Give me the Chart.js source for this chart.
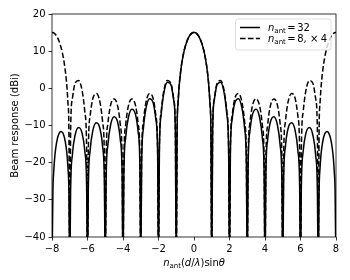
<!DOCTYPE html>
<html>
<head>
<meta charset="utf-8">
<script src="https://cdn.jsdelivr.net/npm/chart.js@4.4.1/dist/chart.umd.min.js"></script>
<style>
  html, body { margin: 0; padding: 0; background: #fff; }
  canvas { display: block; }
</style>
</head>
<body>
<canvas id="beam" width="350" height="280"></canvas>
<script>
/* ================== DATA ================== */
// n_ant (d/lambda) sin(theta)
const uValues = [
  -8, -7.95, -7.9, -7.85, -7.8, -7.7, -7.6, -7.5, -7.4, -7.3, -7.2, -7.15, -7.1, -7.05,
  -7, -6.95, -6.85, -6.7, -6.5, -6.3, -6.15, -6.05,
  -6, -5.95, -5.85, -5.7, -5.5, -5.3, -5.15, -5.05,
  -5, -4.95, -4.85, -4.7, -4.5, -4.3, -4.15, -4.05,
  -4, -3.95, -3.85, -3.7, -3.5, -3.3, -3.15, -3.05,
  -3, -2.95, -2.85, -2.7, -2.5, -2.3, -2.15, -2.05,
  -2, -1.95, -1.85, -1.7, -1.5, -1.3, -1.15, -1.05,
  -1, -0.95, -0.9, -0.85, -0.8, -0.7, -0.6, -0.5, -0.4, -0.3, -0.2, -0.15, -0.1, -0.05,
  0, 0.05, 0.1, 0.15, 0.2, 0.3, 0.4, 0.5, 0.6, 0.7, 0.8, 0.85, 0.9, 0.95,
  1, 1.05, 1.15, 1.3, 1.5, 1.7, 1.85, 1.95,
  2, 2.05, 2.15, 2.3, 2.5, 2.7, 2.85, 2.95,
  3, 3.05, 3.15, 3.3, 3.5, 3.7, 3.85, 3.95,
  4, 4.05, 4.15, 4.3, 4.5, 4.7, 4.85, 4.95,
  5, 5.05, 5.15, 5.3, 5.5, 5.7, 5.85, 5.95,
  6, 6.05, 6.15, 6.3, 6.5, 6.7, 6.85, 6.95,
  7, 7.05, 7.1, 7.15, 7.2, 7.3, 7.4, 7.5, 7.6, 7.7, 7.8, 7.85, 7.9, 7.95,
  8
];

// beam response (dBi), n_ant = 32  (nulls sit below the axis)
const gain32 = [
  -50, -28.08, -22.16, -18.77, -16.49, -13.62, -12.12, -11.60, -11.94, -13.24, -15.93, -18.11, -21.40, -27.23,
  -50, -27.13, -17.80, -12.62, -10.55, -12.16, -17.00, -26.09,
  -50, -25.96, -16.61, -11.39, -9.27, -10.82, -15.62, -24.68,
  -50, -24.52, -15.14, -9.87, -7.67, -9.14, -13.87, -22.89,
  -50, -22.69, -13.26, -7.91, -5.60, -6.95, -11.58, -20.53,
  -50, -20.25, -10.74, -5.26, -2.77, -3.89, -8.34, -17.15,
  -50, -16.72, -7.05, -1.30, 1.62, 1.01, -2.95, -11.38,
  -50, -10.55, -4.17, -0.33, 2.44, 6.37, 9.11, 11.13, 12.63, 13.72, 14.47, 14.73, 14.91, 15.01,
  15.05, 15.01, 14.91, 14.73, 14.47, 13.72, 12.63, 11.13, 9.11, 6.37, 2.44, -0.33, -4.17, -10.55,
  -50, -11.38, -2.95, 1.01, 1.62, -1.30, -7.05, -16.72,
  -50, -17.15, -8.34, -3.89, -2.77, -5.26, -10.74, -20.25,
  -50, -20.53, -11.58, -6.95, -5.60, -7.91, -13.26, -22.69,
  -50, -22.89, -13.87, -9.14, -7.67, -9.87, -15.14, -24.52,
  -50, -24.68, -15.62, -10.82, -9.27, -11.39, -16.61, -25.96,
  -50, -26.09, -17.00, -12.16, -10.55, -12.62, -17.80, -27.13,
  -50, -27.23, -21.40, -18.11, -15.93, -13.24, -11.94, -11.60, -12.12, -13.62, -16.49, -18.77, -22.16, -28.08,
  -50
];

// beam response (dBi), n_ant = 8, x 4
const gain8x4 = [
  15.05, 15.01, 14.91, 14.73, 14.48, 13.74, 12.67, 11.18, 9.19, 6.47, 2.57, -0.18, -4.00, -10.36,
  -50, -11.15, -2.67, 1.37, 2.09, -0.69, -6.32, -15.91,
  -50, -16.25, -7.34, -2.75, -1.41, -3.67, -8.95, -18.33,
  -50, -18.47, -9.38, -4.52, -2.84, -4.79, -9.86, -19.09,
  -50, -19.09, -9.86, -4.79, -2.84, -4.52, -9.38, -18.47,
  -50, -18.33, -8.95, -3.67, -1.41, -2.75, -7.34, -16.25,
  -50, -15.91, -6.32, -0.69, 2.09, 1.37, -2.67, -11.15,
  -50, -10.36, -4.00, -0.18, 2.57, 6.47, 9.19, 11.18, 12.67, 13.74, 14.48, 14.73, 14.91, 15.01,
  15.05, 15.01, 14.91, 14.73, 14.48, 13.74, 12.67, 11.18, 9.19, 6.47, 2.57, -0.18, -4.00, -10.36,
  -50, -11.15, -2.67, 1.37, 2.09, -0.69, -6.32, -15.91,
  -50, -16.25, -7.34, -2.75, -1.41, -3.67, -8.95, -18.33,
  -50, -18.47, -9.38, -4.52, -2.84, -4.79, -9.86, -19.09,
  -50, -19.09, -9.86, -4.79, -2.84, -4.52, -9.38, -18.47,
  -50, -18.33, -8.95, -3.67, -1.41, -2.75, -7.34, -16.25,
  -50, -15.91, -6.32, -0.69, 2.09, 1.37, -2.67, -11.15,
  -50, -10.36, -4.00, -0.18, 2.57, 6.47, 9.19, 11.18, 12.67, 13.74, 14.48, 14.73, 14.91, 15.01,
  15.05
];

const xTicks = [-8, -6, -4, -2, 0, 2, 4, 6, 8];
const yTicks = [-40, -30, -20, -10, 0, 10, 20];
const legendValues = [["32"], ["8,", " \u00d7", "4"]];

/* ================== HELPERS ================== */
const FAM = '"DejaVu Sans", sans-serif';
const F_REG = "10px " + FAM;
const F_IT = "italic 10px " + FAM;
const F_SUB = "7px " + FAM;
const DASH = [5.55, 2.4];

const minus = v => (v < 0 ? "\u2212" + Math.abs(v) : String(v));
const toPoints = ys => uValues.map((u, i) => ({ x: u, y: ys[i] }));

function partsWidth(ctx, parts) {
  let w = 0;
  parts.forEach(p => { ctx.font = p.font; w += ctx.measureText(p.text).width + (p.gap || 0); });
  return w;
}
function drawParts(ctx, parts, x, y) {
  parts.forEach(p => {
    ctx.font = p.font;
    ctx.fillText(p.text, x, y + (p.dy || 0));
    x += ctx.measureText(p.text).width + (p.gap || 0);
  });
}
// n_ant = value, in the mathtext look
const nAnt = vals => {
  const parts = [
    { text: "n", font: F_IT },
    { text: "ant", font: F_SUB, dy: 2, gap: 1.5 },
    { text: "=", font: F_REG, gap: 1.5 }
  ];
  vals.forEach((t, i) => parts.push({ text: t, font: F_REG, gap: i === 1 ? 2.5 : 0 }));
  return parts;
};

/* ================== EXTRAS: frame, legend, x title ================== */
const extras = {
  id: "extras",
  afterDraw(chart) {
    const { ctx, chartArea: ca } = chart;
    ctx.save();

    // axes frame
    ctx.strokeStyle = "#000";
    ctx.lineWidth = 0.8;
    ctx.strokeRect(ca.left, ca.top, ca.right - ca.left, ca.bottom - ca.top);

    // legend box
    const bw = 95.5, bh = 31;
    const bx = ca.right - 5 - bw, by = ca.top + 5;
    ctx.beginPath();
    ctx.roundRect(bx, by, bw, bh, 2.5);
    ctx.fillStyle = "rgba(255,255,255,0.8)";
    ctx.fill();
    ctx.strokeStyle = "rgba(204,204,204,0.8)";
    ctx.lineWidth = 0.8;
    ctx.stroke();

    const rows = [by + 8.5, by + 19.5];
    ctx.fillStyle = "#000";
    ctx.textBaseline = "alphabetic";
    ctx.textAlign = "left";
    rows.forEach((ry, i) => {
      ctx.beginPath();
      ctx.strokeStyle = "#000";
      ctx.lineWidth = 1.5;
      ctx.setLineDash(i === 0 ? [] : DASH);
      ctx.moveTo(bx + 4.5, ry);
      ctx.lineTo(bx + 24.5, ry);
      ctx.stroke();
      ctx.setLineDash([]);
      drawParts(ctx, nAnt(legendValues[i]), bx + 32.5, ry + 3.8);
    });

    // x axis title
    const title = [
      { text: "n", font: F_IT },
      { text: "ant", font: F_SUB, dy: 2 },
      { text: "(", font: F_REG },
      { text: "d", font: F_IT },
      { text: "/", font: F_REG },
      { text: "\u03bb", font: F_IT },
      { text: ")sin", font: F_REG },
      { text: "\u03b8", font: F_IT }
    ];
    const tw = partsWidth(ctx, title);
    drawParts(ctx, title, (ca.left + ca.right) / 2 - tw / 2, 265.5);

    ctx.restore();
  }
};

/* ================== CHART ================== */
new Chart(document.getElementById("beam"), {
  type: "line",
  data: {
    datasets: [
      {
        label: "n_ant = 8, x 4",
        data: toPoints(gain8x4),
        borderColor: "#000",
        borderWidth: 1.5,
        borderDash: DASH,
        pointRadius: 0,
        cubicInterpolationMode: "monotone",
        fill: false,
        order: 0
      },
      {
        label: "n_ant = 32",
        data: toPoints(gain32),
        borderColor: "#000",
        borderWidth: 1.5,
        pointRadius: 0,
        cubicInterpolationMode: "monotone",
        fill: false,
        order: 1
      }
    ]
  },
  options: {
    responsive: false,
    animation: false,
    devicePixelRatio: 1,
    layout: { padding: { left: 0, right: 14, top: 14, bottom: 0 } },
    plugins: { legend: { display: false }, tooltip: { enabled: false } },
    scales: {
      x: {
        type: "linear",
        min: -8,
        max: 8,
        afterBuildTicks: s => { s.ticks = xTicks.map(v => ({ value: v })); },
        afterFit: s => { s.height = 43; },
        border: { display: false },
        grid: { drawOnChartArea: false, drawTicks: true, tickLength: 3.5, color: "#000", lineWidth: 0.8 },
        ticks: { color: "#000", font: { family: FAM, size: 10 }, padding: 3, maxRotation: 0, callback: v => minus(v) }
      },
      y: {
        type: "linear",
        min: -40,
        max: 20,
        afterBuildTicks: s => { s.ticks = yTicks.map(v => ({ value: v })); },
        afterFit: s => { s.width = 52; },
        border: { display: false },
        grid: { drawOnChartArea: false, drawTicks: true, tickLength: 3.5, color: "#000", lineWidth: 0.8 },
        ticks: { color: "#000", font: { family: FAM, size: 10 }, padding: 3, callback: v => minus(v) },
        title: {
          display: true,
          text: "Beam response (dBi)",
          color: "#000",
          font: { family: FAM, size: 10 },
          padding: { top: 9, bottom: 0 }
        }
      }
    }
  },
  plugins: [extras]
});
</script>
</body>
</html>
